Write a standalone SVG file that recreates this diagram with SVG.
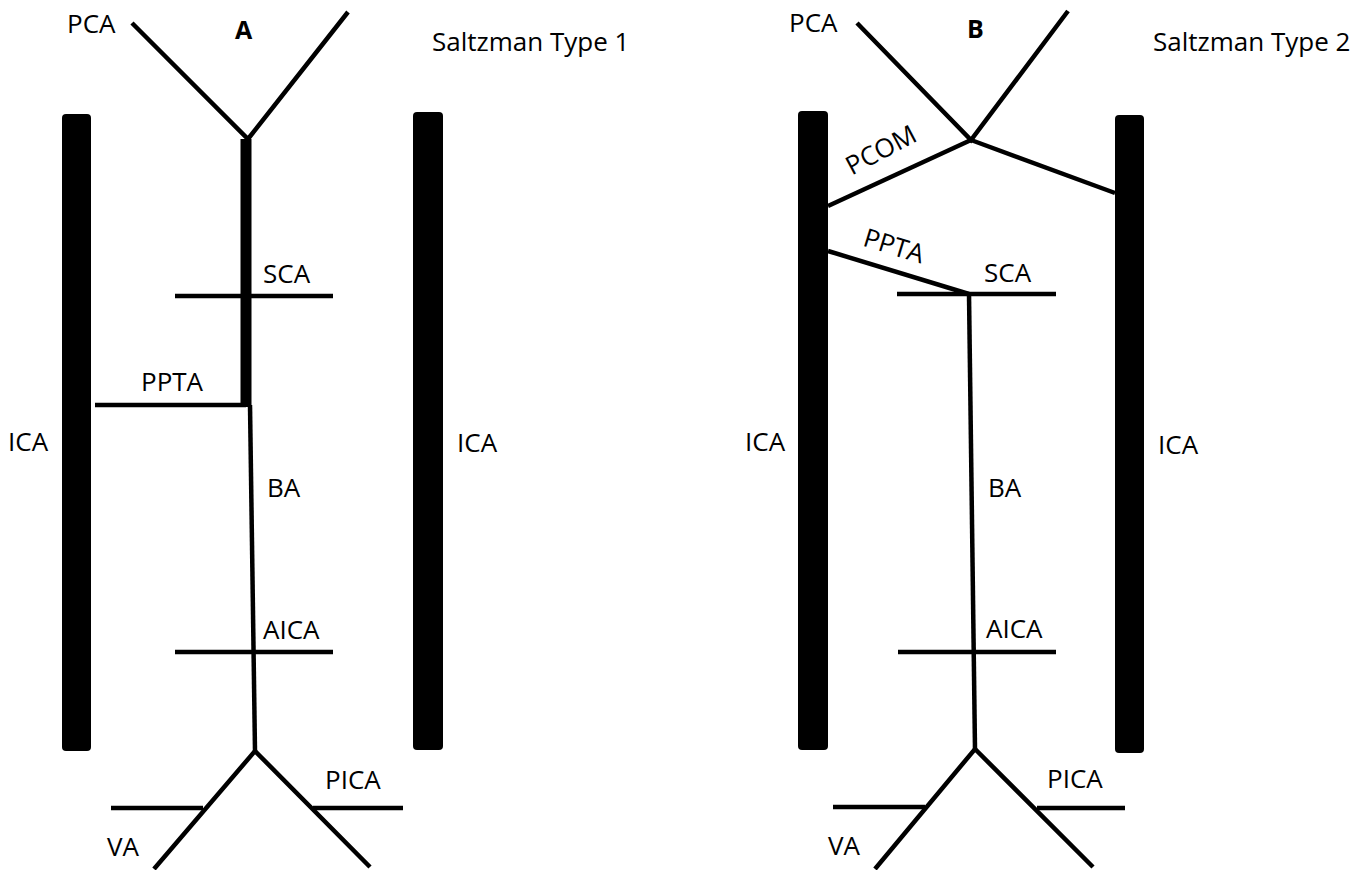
<svg xmlns="http://www.w3.org/2000/svg" width="1365" height="870" viewBox="0 0 1365 870">
  <style>
    .lbl { font-family: "Open Sans", "Noto Sans", sans-serif; font-size: 26px; fill: #000; }
    .ttl { font-family: "Open Sans", "Noto Sans", sans-serif; font-size: 25px; font-weight: bold; fill: #000; }
    .art { stroke: #000; stroke-width: 4.5; fill: none; stroke-linecap: butt; stroke-linejoin: miter; }
    .thick { stroke: #000; stroke-width: 11; fill: none; }
    .ica { fill: #000; }
  </style>
  <rect width="1365" height="870" fill="#fff"/>

  <!-- Panel A: Saltzman Type 1 -->
  <g id="panel-a">
    <text class="ttl" x="235" y="39">A</text>
    <text class="lbl" x="432" y="51">Saltzman Type 1</text>

    <g id="a-ica-left">
      <rect class="ica" x="62" y="114" width="29" height="637" rx="4"/>
      <text class="lbl" x="8" y="451">ICA</text>
    </g>
    <g id="a-ica-right">
      <rect class="ica" x="413" y="112" width="30" height="638" rx="4"/>
      <text class="lbl" x="457" y="452">ICA</text>
    </g>

    <g id="a-connectors">
      <!-- PCA bifurcation -->
      <polyline class="art" points="132,23 248,139 348,12"/>
      <!-- persistent trigeminal segment feeding the upper basilar -->
      <line class="thick" x1="246" y1="139" x2="246" y2="407"/>
      <!-- PPTA -->
      <line class="art" x1="95" y1="405" x2="246" y2="405"/>
      <!-- lower basilar -->
      <line class="art" x1="250" y1="405" x2="255" y2="751"/>
      <!-- SCA and AICA -->
      <line class="art" x1="175" y1="296" x2="333" y2="296"/>
      <line class="art" x1="175" y1="652" x2="333" y2="652"/>
      <!-- vertebral arteries -->
      <polyline class="art" points="154,869 255,751 370,867"/>
      <!-- VA and PICA branches -->
      <line class="art" x1="111" y1="808" x2="203" y2="808"/>
      <line class="art" x1="313" y1="808" x2="403" y2="808"/>
    </g>

    <g id="a-labels">
      <text class="lbl" x="67" y="33">PCA</text>
      <text class="lbl" x="263" y="283">SCA</text>
      <text class="lbl" x="141" y="391">PPTA</text>
      <text class="lbl" x="267" y="497">BA</text>
      <text class="lbl" x="263" y="639">AICA</text>
      <text class="lbl" x="325" y="789">PICA</text>
      <text class="lbl" x="107" y="856">VA</text>
    </g>
  </g>

  <!-- Panel B: Saltzman Type 2 -->
  <g id="panel-b">
    <text class="ttl" x="967" y="38">B</text>
    <text class="lbl" x="1153" y="51">Saltzman Type 2</text>

    <g id="b-ica-left">
      <rect class="ica" x="798" y="111" width="30" height="639" rx="4"/>
      <text class="lbl" x="745" y="451">ICA</text>
    </g>
    <g id="b-ica-right">
      <rect class="ica" x="1115" y="115" width="29" height="638" rx="4"/>
      <text class="lbl" x="1158" y="454">ICA</text>
    </g>

    <g id="b-connectors">
      <!-- PCA bifurcation -->
      <polyline class="art" points="857,23 971,140 1068,11"/>
      <!-- PCOM to left ICA, communicating branch to right ICA -->
      <line class="art" x1="828" y1="206" x2="971" y2="140"/>
      <line class="art" x1="971" y1="140" x2="1115" y2="193"/>
      <!-- PPTA -->
      <line class="art" x1="828" y1="251" x2="969" y2="294"/>
      <!-- SCA -->
      <line class="art" x1="897" y1="294" x2="1056" y2="294"/>
      <!-- basilar -->
      <line class="art" x1="969" y1="294" x2="975" y2="749"/>
      <!-- AICA -->
      <line class="art" x1="898" y1="652" x2="1056" y2="652"/>
      <!-- vertebral arteries -->
      <polyline class="art" points="875,869 975,749 1093,867"/>
      <!-- VA and PICA branches -->
      <line class="art" x1="833" y1="807" x2="925" y2="807"/>
      <line class="art" x1="1037" y1="808" x2="1125" y2="808"/>
    </g>

    <g id="b-labels">
      <text class="lbl" x="789" y="32">PCA</text>
      <text class="lbl" transform="translate(881,150) rotate(-28)" y="9" text-anchor="middle">PCOM</text>
      <text class="lbl" transform="translate(894,246) rotate(17)" y="9" text-anchor="middle">PPTA</text>
      <text class="lbl" x="984" y="282">SCA</text>
      <text class="lbl" x="988" y="497">BA</text>
      <text class="lbl" x="986" y="638">AICA</text>
      <text class="lbl" x="1047" y="788">PICA</text>
      <text class="lbl" x="828" y="855">VA</text>
    </g>
  </g>
</svg>
